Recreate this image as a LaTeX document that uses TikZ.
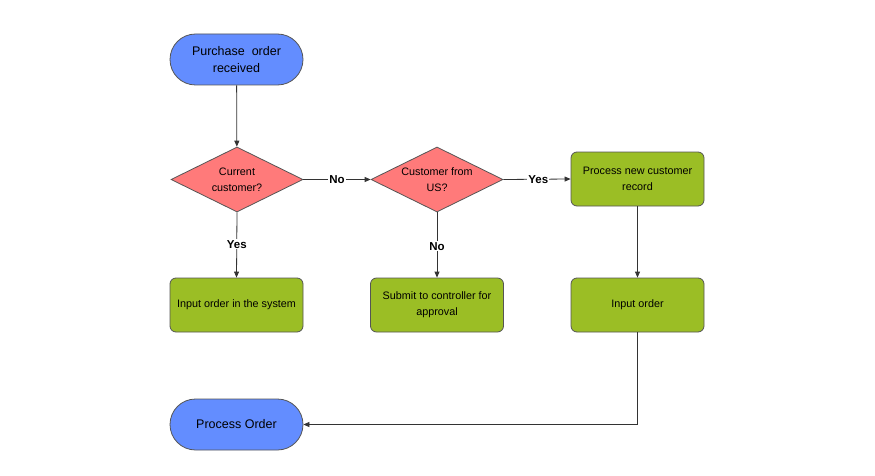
\documentclass[tikz,border=0pt]{standalone}
\usepackage{fontspec}
\setmainfont{Liberation Sans}
\usetikzlibrary{shapes.geometric,shapes.misc,arrows.meta}
\definecolor{termblue}{RGB}{99,141,255}
\definecolor{decred}{RGB}{255,122,122}
\definecolor{procgreen}{RGB}{155,190,37}
\definecolor{edgegray}{RGB}{85,85,85}
\definecolor{linegray}{RGB}{51,51,51}
\begin{document}
\begin{tikzpicture}[x=1pt,y=-1pt,
  term/.style={rounded rectangle,draw=edgegray,line width=0.8pt,fill=termblue,minimum width=133pt,minimum height=51pt,inner sep=0pt,align=center,font=\fontsize{12.5}{17}\selectfont},
  decision/.style={diamond,draw=edgegray,line width=0.8pt,fill=decred,minimum width=132pt,minimum height=65pt,inner sep=0pt,aspect=2.03,align=center,font=\fontsize{10.8}{16}\selectfont},
  procbox/.style={rectangle,rounded corners=6pt,draw=edgegray,line width=0.8pt,fill=procgreen,minimum width=133pt,minimum height=54pt,inner sep=0pt,align=center,font=\fontsize{10.8}{16}\selectfont},
  conn/.style={draw=linegray,line width=0.8pt,-{Triangle[length=6pt,width=5pt]}},
  lbl/.style={fill=white,inner sep=1pt,font=\bfseries\fontsize{11.5}{13}\selectfont}]
\useasboundingbox (0,0) rectangle (875,476);
\node[term] (start) at (236.5,59.5) {Purchase\ \ order\\received};
\node[decision] (d1) at (237,179.5) {Current\\customer?};
\node[decision] (d2) at (437,179.5) {Customer from\\US?};
\node[procbox] (pnew) at (637.5,179) {Process new customer\\record};
\node[procbox] (b1) at (236.5,305) {Input order in the system};
\node[procbox] (b2) at (437,305) {Submit to controller for\\approval};
\node[procbox] (b3) at (637.5,305) {Input order};
\node[term] (endt) at (236.5,424.5) {Process Order};
\coordinate (corner) at (b3.south |- endt.east);
\draw[conn] (start) -- (d1);
\draw[conn] (d1.east) -- node[lbl] {No} (d2.west);
\draw[conn] (d2.east) -- node[lbl,pos=0.52] {Yes} (pnew.west);
\draw[conn] (d1.south) -- node[lbl,pos=0.49] {Yes} (b1.north);
\draw[conn] (d2.south) -- node[lbl,pos=0.52] {No} (b2.north);
\draw[conn] (pnew.south) -- (b3.north);
\draw[conn] (b3.south) -- (corner) -- (endt.east);
\end{tikzpicture}
\end{document}
